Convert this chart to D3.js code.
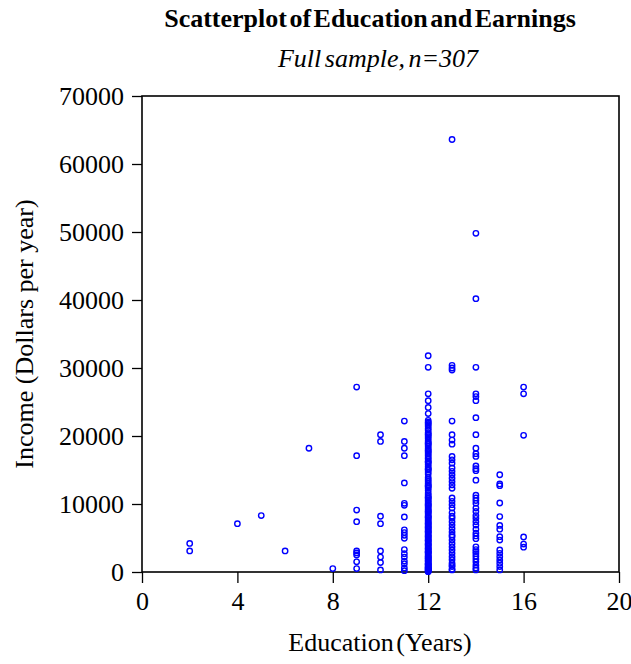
<!doctype html>
<html>
<head>
<meta charset="utf-8">
<title>Scatterplot of Education and Earnings</title>
<script src="https://d3js.org/d3.v7.min.js"></script>
<style>
  body { margin: 0; background: #fff; }
  text { font-family: "Liberation Serif", "Times New Roman", serif; fill: #000; }
</style>
</head>
<body>
<svg width="631" height="664"></svg>
<script>
// values, one array per education level
var educationYears = [2, 4, 5, 6, 7, 8, 9, 10, 11, 12, 13, 14, 15, 16];

var income2 = [4200, 3100];
var income4 = [7100];
var income5 = [8300];
var income6 = [3100];
var income7 = [18200];
var income8 = [500];
var income9 = [27200, 17100, 9100, 7400, 3100, 2800, 2500, 1500, 500];
var income10 = [20200, 19200, 8200, 7100, 3100, 2200, 1400, 300];
var income11 = [22200, 19200, 18200, 17100, 13100, 10100, 9800, 8100, 6200, 5800,
                5400, 4950, 3300, 2700, 2200, 1600, 1200, 600, 200];
var income12 = [31800, 30100, 26200, 25200, 24200, 23300, 22300, 22050, 21700, 21450,
                21100, 20850, 20500, 20150, 19900, 19650, 19300, 19050, 18750, 18500,
                18200, 17950, 17600, 17350, 17100, 16800, 16600, 16300, 16050, 15800,
                15500, 15250, 15000, 14700, 14400, 13900, 13600, 13350, 13050, 12800,
                12550, 12300, 12000, 11600, 11350, 11100, 10850, 10600, 10400, 10150,
                9950, 9700, 9500, 9250, 9050, 8800, 8600, 8350, 8150, 7950,
                7700, 7500, 7300, 7050, 6850, 6650, 6400, 6200, 6000, 5800,
                5600, 5400, 5150, 4950, 4750, 4550, 4300, 4100, 3900, 3700,
                3500, 3300, 3100, 2900, 2700, 2500, 2300, 2100, 1900, 1700,
                1500, 1300, 1150, 950, 800, 650, 500, 350, 200, 100,
                21900, 20300, 18900, 17800, 16200, 15100, 12650, 10950, 9850, 8950,
                8050, 7150, 6550, 5950, 5250, 4650, 4050, 3450, 2850, 2250,
                1650, 1050, 550, 250, 3000, 2000, 1200, 700, 400, 50];
var income13 = [63600, 30400, 30000, 29700, 22200, 20200, 19400, 18800, 17000, 16500,
                16000, 15300, 14800, 14300, 13800, 13300, 12800, 12300, 10900, 10400,
                9900, 9400, 8700, 8200, 7900, 7400, 6900, 6400, 5900, 5450,
                5200, 4700, 4200, 3700, 3250, 2750, 2250, 1800, 1300, 1000,
                800, 400, 300];
var income14 = [49800, 40200, 30100, 26200, 25800, 25200, 22700, 20200, 18200, 17400,
                17000, 15600, 15200, 14900, 13500, 11300, 10900, 10500, 10100, 9400,
                8900, 8300, 7900, 7400, 6900, 6300, 5700, 5300, 4900, 3700,
                3300, 3000, 2700, 2300, 1900, 1500, 1000, 600, 300];
var income15 = [14300, 12950, 12700, 10150, 8150, 6850, 6300, 5200, 4700, 3250,
                2750, 2250, 1750, 1300, 800, 300];
var income16 = [27200, 26200, 20100, 5150, 4100, 3650];

var yTicks = [0, 10000, 20000, 30000, 40000, 50000, 60000, 70000];
var xTicks = [0, 4, 8, 12, 16, 20];

var incomeGroups = [income2, income4, income5, income6, income7, income8, income9,
                    income10, income11, income12, income13, income14, income15, income16];

var points = [];
educationYears.forEach(function (yrs, i) {
    incomeGroups[i].forEach(function (v) { points.push({ edu: yrs, income: v }); });
});

// plot box edges in pixels
var plotLeft = 142, plotRight = 619, plotTop = 96, plotBottom = 572;

var x = d3.scaleLinear().domain([0, 20]).range([plotLeft, plotRight]);
var y = d3.scaleLinear().domain([0, 70000]).range([plotBottom, plotTop]);

var svg = d3.select("svg");

svg.append("g")
    .attr("transform", "translate(" + plotLeft + ",0)")
    .call(d3.axisLeft(y).tickValues(yTicks).tickFormat(d3.format("d"))
        .tickSize(10).tickSizeOuter(0).tickPadding(8))
    .call(function (g) {
        g.select(".domain").remove();
        g.selectAll("line").attr("stroke-width", 1.3);
        g.selectAll("text").attr("font-size", 26).attr("font-family", null);
    });

svg.append("g")
    .attr("transform", "translate(0," + plotBottom + ")")
    .call(d3.axisBottom(x).tickValues(xTicks)
        .tickSize(11).tickSizeOuter(0).tickPadding(9))
    .call(function (g) {
        g.select(".domain").remove();
        g.selectAll("line").attr("stroke-width", 1.3);
        g.selectAll("text").attr("font-size", 26).attr("font-family", null);
    });

svg.append("rect")
    .attr("x", plotLeft)
    .attr("y", plotTop)
    .attr("width", plotRight - plotLeft)
    .attr("height", plotBottom - plotTop)
    .attr("fill", "none")
    .attr("stroke", "#000")
    .attr("stroke-width", 1.6);

svg.append("g")
    .selectAll("circle")
    .data(points)
    .enter()
        .append("circle")
        .attr("cx", function (d) { return x(d.edu); })
        .attr("cy", function (d) { return y(d.income); })
        .attr("r", 2.7)
        .attr("fill", "none")
        .attr("stroke", "#0000ff")
        .attr("stroke-width", 1.4);

svg.append("text")
    .attr("x", 370)
    .attr("y", 27)
    .attr("text-anchor", "middle")
    .attr("font-size", 26)
    .attr("font-weight", "bold")
    .attr("word-spacing", -4)
    .text("Scatterplot of Education and Earnings");

svg.append("text")
    .attr("x", 378)
    .attr("y", 67)
    .attr("text-anchor", "middle")
    .attr("font-size", 26)
    .attr("font-style", "italic")
    .attr("word-spacing", -3)
    .text("Full sample, n=307");

svg.append("text")
    .attr("x", 380)
    .attr("y", 651)
    .attr("text-anchor", "middle")
    .attr("font-size", 26)
    .attr("word-spacing", -4)
    .text("Education (Years)");

svg.append("text")
    .attr("transform", "translate(33," + (plotTop + plotBottom) / 2 + ") rotate(-90)")
    .attr("text-anchor", "middle")
    .attr("font-size", 26)
    .text("Income (Dollars per year)");
</script>
</body>
</html>
